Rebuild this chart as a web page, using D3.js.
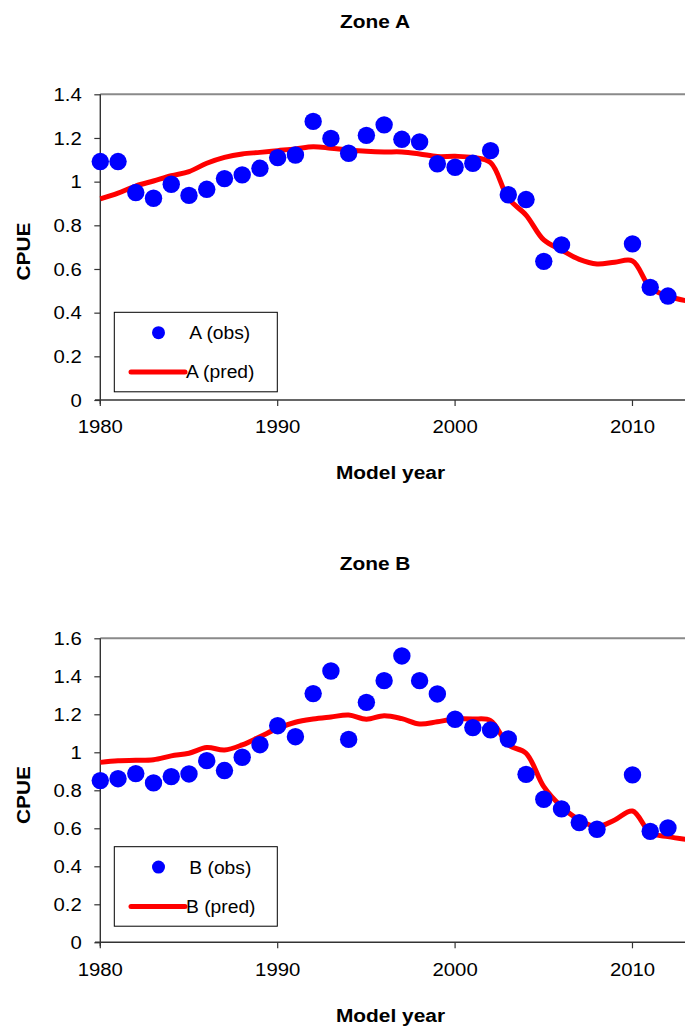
<!DOCTYPE html>
<html><head><meta charset="utf-8">
<script src="https://cdn.jsdelivr.net/npm/d3@7"></script>
<style>body{margin:0;background:#fff}svg{display:block}text{font-family:"Liberation Sans",Arial,sans-serif;fill:#000}</style>
</head><body>
<script>
const obsYears = d3.range(1980, 2013);
const predYears = d3.range(1980, 2014);
const obsA = [1.092,1.092,0.950,0.924,0.988,0.937,0.965,1.014,1.031,1.061,1.110,1.122,1.276,1.198,1.130,1.212,1.260,1.194,1.182,1.082,1.066,1.084,1.142,0.940,0.918,0.635,0.710,null,null,null,0.715,0.516,0.476];
const predA = [0.921,0.947,0.980,1.003,1.027,1.046,1.084,1.111,1.127,1.134,1.142,1.150,1.160,1.153,1.145,1.139,1.136,1.136,1.127,1.115,1.116,1.111,1.087,0.924,0.847,0.733,0.687,0.644,0.623,0.631,0.637,0.515,0.476,0.455];
const obsB = [0.851,0.861,0.888,0.839,0.872,0.886,0.956,0.904,0.974,1.040,1.140,1.082,1.309,1.428,1.068,1.263,1.377,1.507,1.377,1.307,1.174,1.130,1.118,1.070,0.884,0.753,0.702,0.630,0.595,null,0.881,0.584,0.602];
const predB = [0.947,0.956,0.958,0.961,0.981,0.995,1.025,1.012,1.039,1.082,1.126,1.158,1.175,1.186,1.196,1.174,1.193,1.177,1.149,1.161,1.175,1.175,1.167,1.039,0.995,0.819,0.714,0.644,0.609,0.644,0.691,0.577,0.556,0.542];
const xTicks = [1980, 1990, 2000, 2010];
const yTicksA = [0,0.2,0.4,0.6,0.8,1,1.2,1.4];
const yTicksB = [0,0.2,0.4,0.6,0.8,1,1.2,1.4,1.6];

const svg = d3.select("body").append("svg").attr("width",685).attr("height",1030);
const SX = 1.13;

function txt(x, y, s, o) {
  o = o || {};
  const sx = o.sx || SX;
  const t = svg.append("text")
    .attr("transform", `translate(${x},${y})` + (o.rot ? ` rotate(${o.rot})` : "") + ` scale(${sx},1)`)
    .attr("text-anchor", o.anchor || "start")
    .attr("font-size", o.size || 18)
    .attr("font-weight", o.bold ? "bold" : "normal")
    .text(s);
  return t;
}

function panel(cfg) {
  const x = d3.scaleLinear().domain([1980, 2013]).range([100.3, 685.7]);
  const y = d3.scaleLinear().domain([0, cfg.ymax]).range([cfg.y0, cfg.ytop]);

  // top border
  svg.append("line").attr("x1",100.3).attr("x2",685).attr("y1",cfg.ytop).attr("y2",cfg.ytop)
    .attr("stroke","#8a8a8a").attr("stroke-width",2);

  // y axis
  const ya = svg.append("g").attr("transform",`translate(100.3,0)`)
    .call(d3.axisLeft(y).tickValues(cfg.yTicks).tickFormat(d3.format("~g")).tickSize(6).tickPadding(12).tickSizeOuter(0));
  ya.select(".domain").attr("stroke","#333").attr("stroke-width",1.4).attr("d",`M0,${cfg.y0+4}V${cfg.ytop}`);
  ya.selectAll(".tick line").attr("stroke","#333").attr("stroke-width",1.2);
  ya.selectAll(".tick text").attr("font-size",18).attr("font-family",null)
    .attr("x", -18.6/SX).attr("dy","0.35em").attr("transform",`scale(${SX},1)`).attr("fill","#000");

  // x axis
  const xa = svg.append("g").attr("transform",`translate(0,${cfg.y0})`)
    .call(d3.axisBottom(x).tickValues(xTicks).tickFormat(d3.format("d")).tickSize(6).tickPadding(8).tickSizeOuter(0));
  xa.select(".domain").attr("stroke","#333").attr("stroke-width",1.4).attr("d",`M95,0H685`);
  xa.selectAll(".tick line").attr("stroke","#333").attr("stroke-width",1.2);
  xa.selectAll(".tick text").attr("font-size",18).attr("font-family",null).attr("fill","#000")
    .attr("y", 33.3).attr("dy", null)
    .each(function(){ const t=d3.select(this); t.attr("transform",`scale(${SX},1)`); });
  xa.selectAll(".tick").each(function(d){
    const g = d3.select(this);
    g.attr("transform", `translate(${x(d)},0)`);
  });

  // line
  const line = d3.line().x((d,i)=>x(predYears[i])).y(d=>y(d)).curve(d3.curveCatmullRom.alpha(0.5));
  svg.append("path").attr("d", line(cfg.pred)).attr("fill","none").attr("stroke","#ff0000")
    .attr("stroke-width",5).attr("stroke-linejoin","round");

  // points
  const pts = obsYears.map((yr,i)=>({yr, v:cfg.obs[i]})).filter(d=>d.v!=null);
  svg.append("g").selectAll("circle").data(pts).join("circle")
    .attr("cx",d=>x(d.yr)).attr("cy",d=>y(d.v)).attr("r",8.7).attr("fill","#0000ff");

  // titles
  txt(375, cfg.titleY, cfg.title, {bold:true, anchor:"middle", sx:1.16});
  txt(390.5, cfg.y0+79.3, "Model year", {bold:true, anchor:"middle", sx:1.16});
  txt(30, cfg.cpueY, "CPUE", {bold:true, anchor:"middle", rot:-90, sx:1.16});

  // legend
  const lt = cfg.legTop;
  svg.append("rect").attr("x",114.3).attr("y",lt).attr("width",163).attr("height",79.5)
    .attr("fill","#fff").attr("stroke","#000").attr("stroke-width",1);
  svg.append("circle").attr("cx",158.5).attr("cy",lt+20.4).attr("r",6.5).attr("fill","#0000ff");
  txt(189.3, lt+27, cfg.name+" (obs)", {sx:1.07});
  svg.append("line").attr("x1",131).attr("x2",185).attr("y1",lt+59.7).attr("y2",lt+59.7)
    .attr("stroke","#ff0000").attr("stroke-width",5).attr("stroke-linecap","round");
  txt(186, lt+66, cfg.name+" (pred)", {sx:1.07});
}

panel({ymax:1.4, y0:400, ytop:94.3, yTicks:yTicksA, obs:obsA, pred:predA, title:"Zone A", titleY:28, cpueY:251.5, legTop:312.3, name:"A"});
panel({ymax:1.6, y0:942.3, ytop:638.3, yTicks:yTicksB, obs:obsB, pred:predB, title:"Zone B", titleY:570, cpueY:795, legTop:846.7, name:"B"});
</script>
</body></html>
